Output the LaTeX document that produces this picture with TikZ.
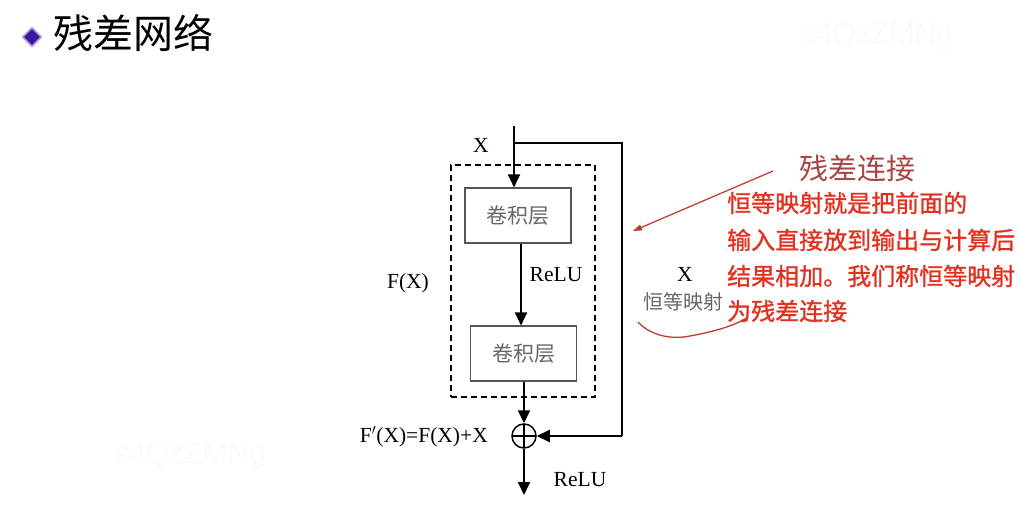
\documentclass[tikz,border=0pt]{standalone}
\usepackage{fontspec}
\setmainfont{Liberation Serif}
\newfontfamily\cjk{Noto Sans CJK SC}
\newfontfamily\cjkb{Noto Sans CJK SC}[FakeBold=1.2]
\newfontfamily\wmfont{Liberation Sans}
\usetikzlibrary{arrows.meta,calc}
\definecolor{boxgray}{HTML}{555555}
\definecolor{txtgray}{HTML}{666666}
\definecolor{redtxt}{HTML}{E3311F}
\definecolor{redline}{HTML}{C0392B}
\definecolor{brownred}{HTML}{A84444}
\definecolor{diam}{HTML}{3A1A9A}
\definecolor{diamedge}{HTML}{A99BE0}
\begin{document}
\begin{tikzpicture}[x=1pt,y=-1pt,
  tip/.style={-{Triangle[length=13pt,width=12pt]}},
  conn/.style={line width=1.9pt,tip},
  wire/.style={line width=1.9pt},
  layer/.style={draw=boxgray,line width=1.1pt,minimum width=106pt,minimum height=55pt,inner sep=0pt,font=\cjk\fontsize{21}{21}\selectfont,text=txtgray},
  lbl/.style={font=\fontsize{21.5}{21.5}\selectfont,inner sep=0pt},
  redt/.style={font=\cjkb\fontsize{24}{24}\selectfont,text=redtxt,anchor=west,inner sep=0pt},
  wm/.style={font=\wmfont\fontsize{30}{30}\selectfont,text=black!2,inner sep=0pt}]
\useasboundingbox (0,0) rectangle (1020,524);
% watermarks
\node[wm] (wm1) at (877,36) {s4QzZMNg};
\node[wm] (wm2) at (190,456) {s4QzZMNg};
% title
\node[draw=diamedge,fill=diam,line width=1.5pt,minimum size=13pt,rotate=45,inner sep=0pt] (dia) at (32,37) {};
\node[anchor=west,inner sep=0pt,font=\cjk\fontsize{40}{40}\selectfont] (title) at (53,33) {残差网络};
% dashed box
\node[draw,dashed,dash pattern=on 6pt off 4pt,line width=1.6pt,minimum width=144pt,minimum height=232pt,inner sep=0pt] (fx) at (523,281) {};
% layers
\node[layer] (b1) at (518,215.5) {卷积层};
\node[layer] (b2) at (523.5,353.5) {卷积层};
% sum
\node[circle,draw,line width=1.5pt,minimum size=24pt,inner sep=0pt,
  path picture={\draw[line width=1.3pt] (path picture bounding box.north) -- (path picture bounding box.south) (path picture bounding box.west) -- (path picture bounding box.east);}] (sum) at (524,436) {};
% coordinates
\coordinate (in) at (514,126);
\coordinate (br) at (514,143);
\coordinate (c1) at (622,143);
\coordinate (c2) at (622,436);
\coordinate (out) at (524,495);
% connectors
\draw[conn] (in) -- (in |- b1.north);
\draw[wire] (br) -- (c1) -- (c2);
\draw[conn] (c2) -- (sum.east);
\draw[conn] (b1.south -| 521,0) -- (b2.north -| 521,0);
\draw[conn] (b2.south -| 524,0) -- (sum.north);
\draw[conn] (sum.south) -- (out);
% labels
\node[lbl] (lx) at (481,145) {X};
\node[lbl] (lr1) at (556,275) {ReLU};
\node[lbl] (lf) at (408,283) {F(X)};
\node[lbl,anchor=east] (lsum) at (488,437) {F$'$(X)=F(X)+X};
\node[lbl] (lr2) at (580,480) {ReLU};
\node[lbl] (lx2) at (685,274) {X};
\node[inner sep=0pt,font=\cjk\fontsize{20}{20}\selectfont,text=txtgray] (lid) at (683,302) {恒等映射};
% annotations
\node[inner sep=0pt,font=\cjk\fontsize{29}{29}\selectfont,text=brownred] (res) at (857,168) {残差连接};
\draw[redline,line width=1.2pt,-{Triangle[length=9pt,width=6pt]}] (773,171) -- (633,231);
\draw[redline,line width=1.3pt] (638,322) .. controls (650,335) and (670,340) .. (690,336) .. controls (712,332) and (735,326) .. (748,317);
\node[redt] (t1) at (727,203) {恒等映射就是把前面的};
\node[redt] (t2) at (727,240) {输入直接放到输出与计算后};
\node[redt] (t3) at (727,276) {结果相加。我们称恒等映射};
\node[redt] (t4) at (727,311) {为残差连接};
\end{tikzpicture}
\end{document}
